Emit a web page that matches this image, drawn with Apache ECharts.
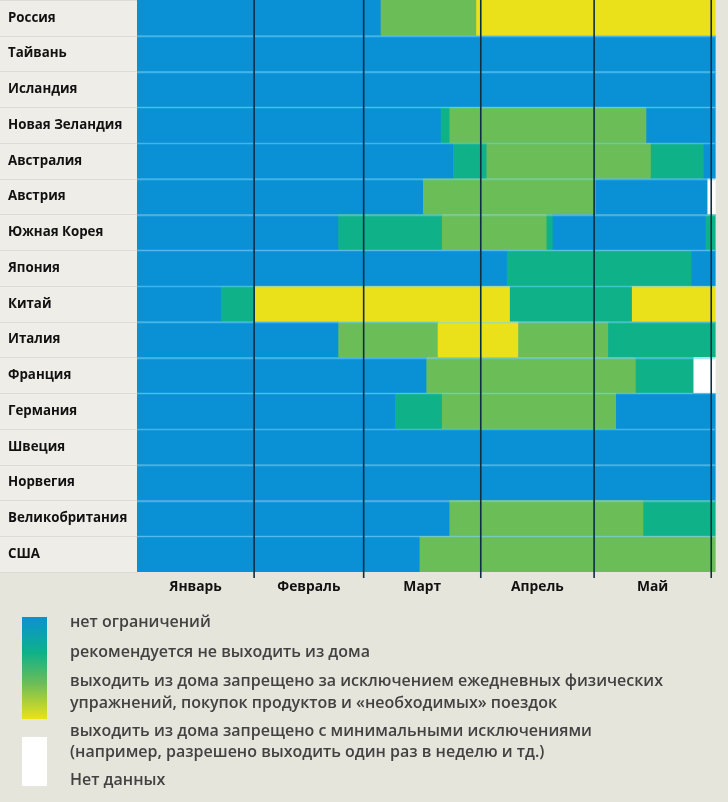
<!DOCTYPE html>
<html>
<head>
<meta charset="utf-8">
<script src="https://cdn.jsdelivr.net/npm/echarts@6/dist/echarts.min.js"></script>
<style>
  html, body { margin: 0; padding: 0; background: #e6e5dc; }
  #chart { width: 728px; height: 802px; }
</style>
</head>
<body>
<div id="chart"></div>
<script>
// страны сверху вниз
var countries = ['Россия', 'Тайвань', 'Исландия', 'Новая Зеландия', 'Австралия', 'Австрия',
  'Южная Корея', 'Япония', 'Китай', 'Италия', 'Франция', 'Германия', 'Швеция', 'Норвегия',
  'Великобритания', 'США'];

// отрезки: [день начала, день конца, уровень], день 0 = 1 января
var russia     = [[0, 64.5, 0], [64.5, 89.8, 2], [89.8, 153, 3]];
var taiwan     = [[0, 153, 0]];
var iceland    = [[0, 153, 0]];
var newZealand = [[0, 80.4, 0], [80.4, 82.7, 1], [82.7, 134.8, 2], [134.8, 153, 0]];
var australia  = [[0, 83.7, 0], [83.7, 92.5, 1], [92.5, 136, 2], [136, 150, 1], [150, 153, 0]];
var austria    = [[0, 75.7, 0], [75.7, 121.4, 2], [121.4, 151, 0], [151, 153, 4]];
var southKorea = [[0, 53.3, 0], [53.3, 80.7, 1], [80.7, 108.4, 2], [108.4, 110, 1], [110, 150.5, 0], [150.5, 153, 1]];
var japan      = [[0, 97.9, 0], [97.9, 146.7, 1], [146.7, 153, 0]];
var china      = [[0, 22.2, 0], [22.2, 31.1, 1], [31.1, 98.7, 3], [98.7, 131, 1], [131, 153, 3]];
var italy      = [[0, 53.3, 0], [53.3, 79.6, 2], [79.6, 100.9, 3], [100.9, 124.7, 2], [124.7, 153, 1]];
var france     = [[0, 76.6, 0], [76.6, 132, 2], [132, 147.3, 1], [147.3, 153, 4]];
var germany    = [[0, 68.3, 0], [68.3, 80.7, 1], [80.7, 126.8, 2], [126.8, 153, 0]];
var sweden     = [[0, 153, 0]];
var norway     = [[0, 153, 0]];
var uk         = [[0, 82.7, 0], [82.7, 134, 2], [134, 153, 1]];
var usa        = [[0, 74.8, 0], [74.8, 153, 2]];

var rows = [russia, taiwan, iceland, newZealand, australia, austria, southKorea, japan,
  china, italy, france, germany, sweden, norway, uk, usa];

var monthStarts = [0, 31, 60, 91, 121, 152];
var monthNames = ['Январь', 'Февраль', 'Март', 'Апрель', 'Май'];

var legendTexts = [
  'нет ограничений',
  'рекомендуется не выходить из дома',
  'выходить из дома запрещено за исключением ежедневных физических',
  'упражнений, покупок продуктов и «необходимых» поездок',
  'выходить из дома запрещено с минимальными исключениями',
  '(например, разрешено выходить один раз в неделю и тд.)',
  'Нет данных'
];

var levelColors = ['#0a91d5', '#0fb189', '#6bbd58', '#ebe11a', '#ffffff'];

var segData = [];
rows.forEach(function (segs, r) {
  segs.forEach(function (s) {
    segData.push([s[0], s[1], r, s[2]]);
  });
});

var monthMids = [];
for (var i = 0; i < monthNames.length; i++) {
  monthMids.push((monthStarts[i] + monthStarts[i + 1]) / 2);
}

var myChart = echarts.init(document.getElementById('chart'));

var option = {
  backgroundColor: '#e6e5dc',
  animation: false,
  grid: { left: 137, top: -4, width: 578, height: 576 },
  xAxis: {
    type: 'value',
    min: 0,
    max: 153,
    axisLine: { show: false },
    axisTick: { show: false },
    splitLine: { show: false },
    axisLabel: {
      customValues: monthMids,
      margin: 8,
      color: '#111',
      fontWeight: 'bold',
      fontSize: 13.8,
      fontFamily: 'Open Sans',
      formatter: function (v) {
        var idx = monthMids.indexOf(v);
        return idx >= 0 ? monthNames[idx] : '';
      }
    }
  },
  yAxis: {
    type: 'category',
    data: countries,
    inverse: true,
    axisLine: { show: false },
    axisTick: { show: true, length: 137, lineStyle: { color: '#dddcd4', width: 1 } },
    axisLabel: {
      align: 'left',
      margin: 129,
      color: '#111',
      fontWeight: 'bold',
      fontSize: 13.3,
      fontFamily: 'Open Sans'
    }
  },
  graphic: [
    { type: 'rect', z: -10, shape: { x: 0, y: 0, width: 137, height: 572 }, style: { fill: '#eeede8' } },
    {
      type: 'rect',
      shape: { x: 22, y: 617, width: 25, height: 102 },
      style: {
        fill: new echarts.graphic.LinearGradient(0, 0, 0, 1, [
          { offset: 0, color: levelColors[0] },
          { offset: 0.35, color: levelColors[1] },
          { offset: 0.65, color: levelColors[2] },
          { offset: 1, color: levelColors[3] }
        ])
      }
    },
    { type: 'rect', shape: { x: 22, y: 737, width: 25, height: 49 }, style: { fill: '#ffffff' } }
  ].concat(legendTexts.map(function (t, k) {
    var ys = [622, 652, 681, 703, 731, 752, 780];
    return {
      type: 'text',
      style: {
        text: t, x: 70, y: ys[k], fill: '#424242', verticalAlign: 'middle',
        fontSize: 16, fontWeight: 600, fontFamily: 'Open Sans'
      }
    };
  })),
  series: [
    {
      type: 'custom',
      name: 'segments',
      encode: { x: [0, 1], y: 2 },
      data: segData,
      renderItem: function (params, api) {
        var p0 = api.coord([api.value(0), api.value(2)]);
        var p1 = api.coord([api.value(1), api.value(2)]);
        var h = api.size([0, 1])[1];
        return {
          type: 'rect',
          shape: { x: p0[0], y: p0[1] - h / 2, width: p1[0] - p0[0] + 0.6, height: h },
          style: { fill: levelColors[api.value(3)] }
        };
      }
    },
    {
      type: 'custom',
      name: 'rowLines',
      data: countries.slice(1).map(function (c, k) { return [0, k + 1]; }),
      encode: { x: 0, y: 1 },
      renderItem: function (params, api) {
        var cs = params.coordSys;
        var c = api.coord([0, api.value(1)]);
        var h = api.size([0, 1])[1];
        var y = Math.round(c[1] - h / 2) + 0.5;
        return {
          type: 'line',
          shape: { x1: cs.x, y1: y, x2: cs.x + cs.width, y2: y },
          style: { stroke: 'rgba(110,210,255,0.55)', lineWidth: 1.5 }
        };
      }
    },
    {
      type: 'custom',
      name: 'monthLines',
      clip: false,
      data: monthStarts.slice(1).map(function (d) { return [d, 0]; }),
      encode: { x: 0, y: 1 },
      renderItem: function (params, api) {
        var cs = params.coordSys;
        var x = api.coord([api.value(0), 0])[0];
        return {
          type: 'line',
          shape: { x1: x, y1: cs.y, x2: x, y2: cs.y + cs.height + 6 },
          style: { stroke: '#0c2e42', lineWidth: 1.6 }
        };
      }
    }
  ]
};

myChart.setOption(option);
window.addEventListener('resize', function () {
  myChart.resize();
});
</script>
</body>
</html>
